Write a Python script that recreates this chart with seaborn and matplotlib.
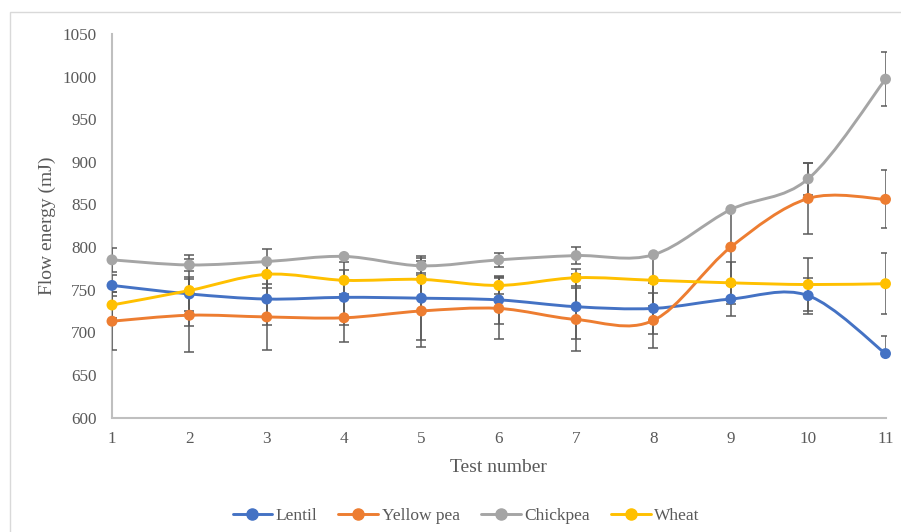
import matplotlib
matplotlib.use("Agg")
import matplotlib.pyplot as plt
from matplotlib.path import Path
from matplotlib.patches import PathPatch, Rectangle
from matplotlib.lines import Line2D
import pandas as pd
import seaborn as sns

# ---- data -------------------------------------------------------------
tests = list(range(1, 12))
series_names = ["Lentil", "Yellow pea", "Chickpea", "Wheat"]

lentil = [755, 745, 739, 741, 740, 738, 730, 728, 739, 743, 675]
yellow_pea = [713, 720, 718, 717, 725, 728, 715, 714, 800, 857, 856]
chickpea = [785, 779, 783, 789, 778, 785, 790, 791, 844, 880, 997]
wheat = [732, 749, 768, 761, 762, 755, 764, 761, 758, 756, 757]

# standard deviations (upper / lower)
lentil_err_up = [12, 20, 30, 32, 49, 28, 38, 30, 20, 21, 21]
lentil_err_down = [12, 20, 30, 32, 49, 28, 38, 30, 20, 21, 0]
yellow_pea_err = [34, 43, 39, 28, 42, 36, 37, 32, 44, 42, 34]
chickpea_err = [14, 7, 15, 0, 9, 8, 10, 0, 0, 19, 32]
wheat_err = [15, 42, 16, 21, 22, 10, 10, 30, 25, 31, 36]

colors = ["#4472C4", "#ED7D31", "#A5A5A5", "#FFC000"]
text_color = "#595959"

values = [lentil, yellow_pea, chickpea, wheat]
err_up = [lentil_err_up, yellow_pea_err, chickpea_err, wheat_err]
err_down = [lentil_err_down, yellow_pea_err, chickpea_err, wheat_err]

df = pd.DataFrame(
    [(name, t, v) for name, vals in zip(series_names, values) for t, v in zip(tests, vals)],
    columns=["series", "test", "energy"],
)

# ---- style ------------------------------------------------------------
sns.set_theme(style="white")
plt.rcParams["font.family"] = ["Liberation Serif", "DejaVu Serif"]

fig = plt.figure(figsize=(9.01, 5.32), dpi=100)
W, H = 901, 532
ax = fig.add_axes([112 / W, 1 - 417.5 / H, (885.5 - 112) / W, (417.5 - 34) / H])

# light frame around the chart area
fig.patches.append(Rectangle((10 / W, -0.2), 1.2, (H - 12) / H + 0.2,
                             transform=fig.transFigure, fill=False,
                             edgecolor="#D9D9D9", lw=1.0))


def smooth_path(xs, ys, t=1 / 6):
    """Cubic Bezier path through the points (Catmull-Rom style smoothing)."""
    pts = list(zip(xs, ys))
    n = len(pts)
    verts = [pts[0]]
    codes = [Path.MOVETO]
    for i in range(n - 1):
        p0 = pts[i - 1] if i > 0 else pts[i]
        p1 = pts[i]
        p2 = pts[i + 1]
        p3 = pts[i + 2] if i + 2 < n else pts[i + 1]
        c1 = (p1[0] + (p2[0] - p0[0]) * t, p1[1] + (p2[1] - p0[1]) * t)
        c2 = (p2[0] - (p3[0] - p1[0]) * t, p2[1] - (p3[1] - p1[1]) * t)
        verts += [c1, c2, p2]
        codes += [Path.CURVE4] * 3
    return Path(verts, codes)


for i, (name, vals, c) in enumerate(zip(series_names, values, colors)):
    ax.add_patch(PathPatch(smooth_path(tests, vals), fill=False, edgecolor=c,
                           lw=2.1, zorder=2 + i * 0.1, capstyle="round"))
    ax.errorbar(tests, vals, yerr=[err_down[i], err_up[i]], fmt="none",
                ecolor="#5A5A5A", elinewidth=1.1, capsize=3.3, capthick=1.1,
                zorder=3 + i * 0.1)

sns.scatterplot(data=df, x="test", y="energy", hue="series", hue_order=series_names,
                palette=colors, s=62, linewidth=0, legend=False, ax=ax,
                zorder=5, clip_on=False)

ax.set_xlim(1, 11)
ax.set_ylim(600, 1050)
ax.set_xticks(tests)
ax.set_yticks(range(600, 1051, 50))
ax.tick_params(axis="both", length=0, labelsize=12.3, labelcolor=text_color)
ax.tick_params(axis="y", pad=11)
ax.tick_params(axis="x", pad=10)

for side in ["top", "right"]:
    ax.spines[side].set_visible(False)
for side in ["left", "bottom"]:
    ax.spines[side].set_color("#BFBFBF")
    ax.spines[side].set_linewidth(1.5)

ax.set_xlabel("Test number", fontsize=14, color=text_color, labelpad=8)
ax.set_ylabel("Flow energy (mJ)", fontsize=14, color=text_color, labelpad=5)

handles = [Line2D([], [], color=c, lw=2.1, marker="o", markersize=8) for c in colors]
fig.legend(handles, series_names, loc="center", bbox_to_anchor=(466 / W, 1 - 516 / H),
           ncol=4, frameon=False, handlelength=2.3, handletextpad=0.2,
           columnspacing=1.2, prop={"size": 12.5}, labelcolor=text_color)

fig.savefig("out.png", dpi=100)
